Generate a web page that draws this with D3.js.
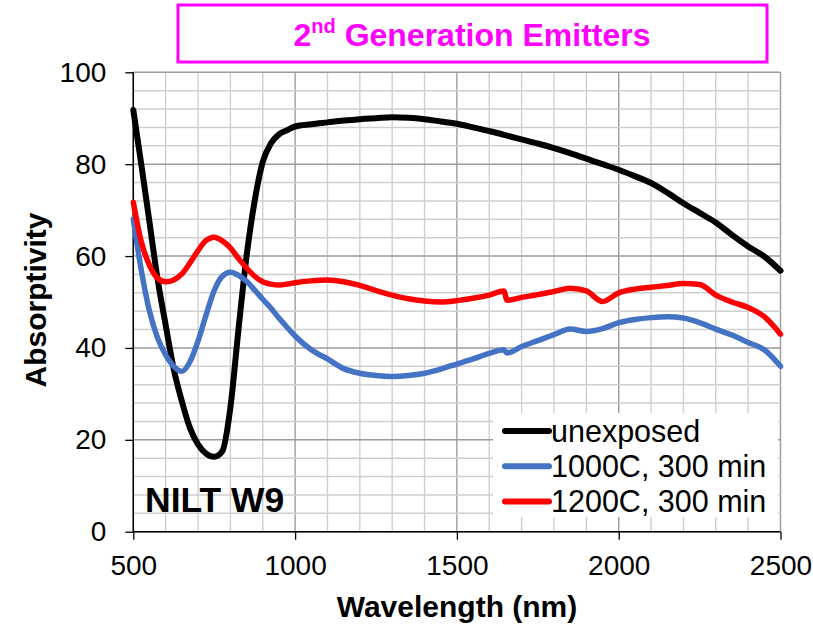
<!DOCTYPE html>
<html>
<head>
<meta charset="utf-8">
<script src="https://cdn.jsdelivr.net/npm/d3@7"></script>
<style>
  html, body { margin: 0; padding: 0; background: #fff; }
  svg { display: block; }
  text { font-family: "Liberation Sans", Arial, sans-serif; }
</style>
</head>
<body>
<svg id="chart" width="813" height="626"></svg>
<script>
// Wavelength sampling (nm), shared by all three spectra
const wavelengths = [500,525,550,575,600,625,650,675,700,725,750,775,800,825,850,875,900,925,950,975,1000,
  1050,1100,1150,1200,1250,1300,1350,1400,1450,1500,1550,1600,1645,1655,
  1700,1750,1800,1850,1900,1950,2000,2050,2100,2150,2200,2250,2300,2350,2400,2450,2500];

const unexposed = [91.8,79.8,67.4,55.0,45.0,35.4,28.4,22.6,19.0,17.0,16.3,17.5,27.0,44.0,60.0,72.0,80.5,84.5,86.5,87.4,88.2,
  88.7,89.1,89.5,89.8,90.0,90.2,90.1,89.8,89.3,88.8,88.0,87.2,86.4,86.2,
  85.4,84.5,83.5,82.4,81.2,80.0,78.8,77.4,75.9,73.8,71.5,69.4,67.3,64.6,62.1,59.9,56.8];

const c1000 = [68.0,56.8,48.0,42.2,38.5,36.0,34.9,37.0,41.5,47.2,52.5,55.6,56.5,55.8,54.5,52.6,50.6,48.7,46.5,44.5,42.6,
  39.6,37.6,35.5,34.5,34.0,33.8,34.0,34.5,35.4,36.5,37.6,38.8,39.6,38.9,
  40.3,41.6,42.9,44.1,43.6,44.2,45.5,46.2,46.6,46.8,46.5,45.5,44.1,42.8,41.2,39.6,36.0];

const c1200 = [71.7,63.0,58.0,55.2,54.4,54.8,56.1,58.5,61.2,63.4,64.1,63.3,61.8,59.5,57.4,55.6,54.4,53.9,53.7,53.9,54.2,
  54.6,54.8,54.4,53.6,52.5,51.5,50.7,50.2,50.0,50.3,50.8,51.5,52.4,50.4,
  51.0,51.6,52.3,53.0,52.4,50.1,52.0,52.8,53.2,53.6,54.0,53.8,51.5,50.0,48.8,46.8,43.0];

const seriesNames = ["unexposed", "1000C, 300 min", "1200C, 300 min"];
const seriesColors = ["#000000", "#4472C4", "#FF0000"];
const seriesValues = [unexposed, c1000, c1200];

const xTicks = [500, 1000, 1500, 2000, 2500];
const yTicks = [0, 20, 40, 60, 80, 100];

const svg = d3.select("#chart");
const plotLeft = 133.3, plotRight = 780.5, plotTop = 72.3, plotBottom = 531.7;

const x = d3.scaleLinear().domain([500, 2500]).range([plotLeft, plotRight]);
const y = d3.scaleLinear().domain([0, 100]).range([plotBottom, plotTop]);

// Grid: minor every 100 nm / 4 units, major every 500 nm / 20 units
const grid = svg.append("g");
d3.range(500, 2501, 100).forEach(v => {
  const major = v % 500 === 0;
  grid.append("line")
    .attr("x1", x(v)).attr("x2", x(v)).attr("y1", plotTop).attr("y2", plotBottom)
    .attr("stroke", major ? "#9c9c9c" : "#cfcfcf").attr("stroke-width", 1.4);
});
d3.range(0, 101, 4).forEach(v => {
  const major = v % 20 === 0;
  grid.append("line")
    .attr("x1", plotLeft).attr("x2", plotRight).attr("y1", y(v)).attr("y2", y(v))
    .attr("stroke", major ? "#9c9c9c" : "#cfcfcf").attr("stroke-width", 1.4);
});

// Axes
const xAxis = d3.axisBottom(x).tickValues(xTicks).tickSize(8).tickPadding(15).tickFormat(d3.format("d"));
const yAxis = d3.axisLeft(y).tickValues(yTicks).tickSize(8).tickPadding(19);

const gx = svg.append("g").attr("transform", `translate(0,${plotBottom})`).call(xAxis);
const gy = svg.append("g").attr("transform", `translate(${plotLeft},0)`).call(yAxis);
[gx, gy].forEach(g => {
  g.select(".domain").attr("stroke", "#000").attr("stroke-width", 1.5);
  g.selectAll(".tick line").attr("stroke", "#000").attr("stroke-width", 1.3);
  g.selectAll(".tick text").attr("fill", "#000").style("font-size", "28px")
    .style("font-family", "'Liberation Sans', Arial, sans-serif");
});
gx.select(".domain").attr("d", `M${plotLeft},0H${plotRight}`);
gy.select(".domain").attr("d", `M0,${plotBottom}V${plotTop}`);

// Spectra
const line = d3.line()
  .x((d, i) => x(wavelengths[i]))
  .y(d => y(d))
  .curve(d3.curveMonotoneX);

seriesValues.forEach((vals, k) => {
  svg.append("path")
    .datum(vals)
    .attr("d", line)
    .attr("fill", "none")
    .attr("stroke", seriesColors[k])
    .attr("stroke-width", k === 0 ? 6 : 5.5)
    .attr("stroke-linejoin", "round")
    .attr("stroke-linecap", "round");
});

// Legend
const legend = svg.append("g");
legend.append("rect")
  .attr("x", 493).attr("y", 413).attr("width", 285).attr("height", 104)
  .attr("fill", "#fff");
seriesNames.forEach((name, k) => {
  const cy = 431 + k * 35.3;
  legend.append("line")
    .attr("x1", 505).attr("x2", 549).attr("y1", cy).attr("y2", cy)
    .attr("stroke", seriesColors[k]).attr("stroke-width", 6).attr("stroke-linecap", "round");
  legend.append("text")
    .attr("x", 551).attr("y", cy + 10.5)
    .style("font-size", "30.5px").attr("fill", "#000")
    .text(name);
});

// Sample label
svg.append("text")
  .attr("x", 145).attr("y", 512)
  .style("font-size", "35.5px").style("font-weight", "bold")
  .text("NILT W9");

// Axis titles
svg.append("text")
  .attr("x", 457).attr("y", 617)
  .attr("text-anchor", "middle")
  .style("font-size", "30px").style("font-weight", "bold")
  .text("Wavelength (nm)");

svg.append("text")
  .attr("transform", "translate(46,300) rotate(-90)")
  .attr("text-anchor", "middle")
  .style("font-size", "30px").style("font-weight", "bold")
  .text("Absorptivity");

// Title box
svg.append("rect")
  .attr("x", 178).attr("y", 5).attr("width", 589).attr("height", 57)
  .attr("fill", "#fff").attr("stroke", "#FF00FF").attr("stroke-width", 3);

const title = svg.append("text")
  .attr("x", 472).attr("y", 46)
  .attr("text-anchor", "middle")
  .attr("fill", "#FF00FF")
  .style("font-size", "32px").style("font-weight", "bold");
title.append("tspan").text("2");
title.append("tspan").attr("dy", -13).style("font-size", "20px").text("nd");
title.append("tspan").attr("dy", 13).text(" Generation Emitters");
</script>
</body>
</html>
